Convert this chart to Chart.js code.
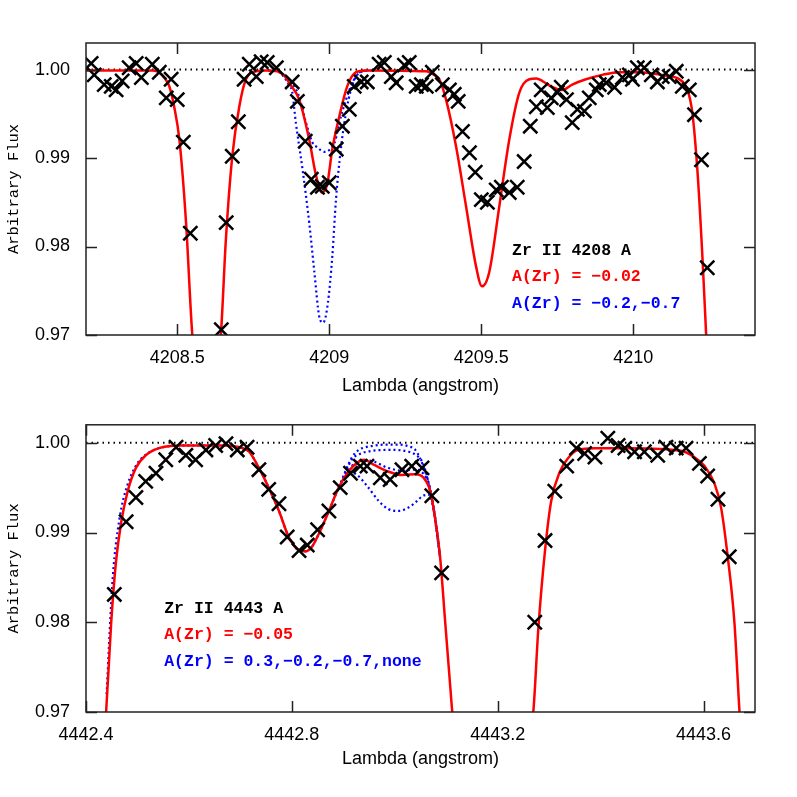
<!DOCTYPE html>
<html>
<head>
<meta charset="utf-8">
<script src="https://cdn.jsdelivr.net/npm/chart.js@4/dist/chart.umd.min.js"></script>
<style>
  body { margin: 0; background: #fff; }
  .panel { position: absolute; left: 0; }
</style>
</head>
<body>
<canvas id="topChart" class="panel" style="top:0" width="797" height="398"></canvas>
<canvas id="bottomChart" class="panel" style="top:398px" width="797" height="399"></canvas>
<script>
// ---------------- Zr II 4208 A ----------------
const topObsWave = [4208.217, 4208.227, 4208.260, 4208.283, 4208.299, 4208.319, 4208.342, 4208.365, 4208.382, 4208.418,
    4208.441, 4208.464, 4208.480, 4208.500, 4208.520, 4208.543, 4208.645, 4208.661, 4208.681, 4208.701,
    4208.720, 4208.737, 4208.760, 4208.776, 4208.796, 4208.826, 4208.878, 4208.895, 4208.921, 4208.941,
    4208.961, 4208.977, 4209.000, 4209.023, 4209.043, 4209.066, 4209.082, 4209.105, 4209.125, 4209.164,
    4209.181, 4209.204, 4209.220, 4209.247, 4209.263, 4209.286, 4209.303, 4209.319, 4209.339, 4209.372,
    4209.395, 4209.411, 4209.424, 4209.438, 4209.461, 4209.480, 4209.500, 4209.520, 4209.549, 4209.566,
    4209.592, 4209.618, 4209.641, 4209.661, 4209.681, 4209.697, 4209.717, 4209.730, 4209.750, 4209.763,
    4209.780, 4209.799, 4209.816, 4209.839, 4209.855, 4209.878, 4209.888, 4209.911, 4209.938, 4209.964,
    4209.987, 4209.997, 4210.013, 4210.036, 4210.059, 4210.079, 4210.095, 4210.118, 4210.141, 4210.161,
    4210.184, 4210.201, 4210.224, 4210.243];
const topObsFlux = [1.0007, 0.9994, 0.9983, 0.9981, 0.9977, 0.9987, 1.0002, 1.0007, 0.9991, 1.0006,
    0.9997, 0.9968, 0.9989, 0.9966, 0.9918, 0.9815, 0.9706, 0.9827, 0.9902, 0.9941,
    0.9989, 1.0006, 0.9992, 1.0009, 1.0008, 1.0002, 0.9986, 0.9964, 0.9919, 0.9876,
    0.9867, 0.9868, 0.9872, 0.9910, 0.9936, 0.9955, 0.9981, 0.9986, 0.9986, 1.0006,
    1.0008, 0.9992, 0.9985, 1.0005, 1.0008, 0.9981, 0.9983, 0.9981, 0.9997, 0.9983,
    0.9977, 0.9972, 0.9964, 0.9930, 0.9906, 0.9884, 0.9853, 0.9850, 0.9864, 0.9867,
    0.9861, 0.9867, 0.9896, 0.9936, 0.9958, 0.9977, 0.9957, 0.9968, 0.9974, 0.9980,
    0.9966, 0.9940, 0.9955, 0.9953, 0.9968, 0.9977, 0.9983, 0.9985, 0.9980, 0.9991,
    0.9994, 0.9989, 1.0002, 1.0002, 0.9994, 0.9986, 0.9992, 0.9992, 0.9998, 0.9981,
    0.9977, 0.9949, 0.9898, 0.9776];

const topFitWave = [4208.200, 4208.420, 4208.440, 4208.457, 4208.474, 4208.490, 4208.507, 4208.529, 4208.549, 4208.595,
    4208.644, 4208.660, 4208.681, 4208.704, 4208.726, 4208.759, 4208.792, 4208.829, 4208.852, 4208.868,
    4208.901, 4208.934, 4208.956, 4208.976, 4208.993, 4209.010, 4209.033, 4209.059, 4209.088, 4209.121,
    4209.318, 4209.345, 4209.362, 4209.384, 4209.417, 4209.450, 4209.483, 4209.502, 4209.526, 4209.559,
    4209.592, 4209.625, 4209.658, 4209.681, 4209.701, 4209.734, 4209.766, 4209.799, 4209.844, 4209.898,
    4209.954, 4210.020, 4210.108, 4210.151, 4210.178, 4210.194, 4210.211, 4210.227, 4210.239, 4210.260];
const topFitFlux = [0.9999, 0.9999, 0.9997, 0.9991, 0.9981, 0.9958, 0.9921, 0.9827, 0.9703, 0.9550,
    0.9703, 0.9808, 0.9902, 0.9958, 0.9989, 0.9998, 0.9999, 0.9998, 0.9993, 0.9985,
    0.9966, 0.9921, 0.9881, 0.9861, 0.9870, 0.9910, 0.9947, 0.9981, 0.9997, 0.9999,
    0.9998, 0.9994, 0.9989, 0.9966, 0.9913, 0.9845, 0.9777, 0.9755, 0.9771, 0.9845,
    0.9921, 0.9974, 0.9989, 0.9990, 0.9987, 0.9980, 0.9977, 0.9983, 0.9989, 0.9994,
    0.9997, 0.9997, 0.9993, 0.9989, 0.9977, 0.9951, 0.9884, 0.9789, 0.9703, 0.9550];

// A(Zr) = -0.2 and -0.7
const topAltWaveA = [4208.836, 4208.870, 4208.900, 4208.921, 4208.944, 4208.961, 4208.984, 4209.000, 4209.020, 4209.033,
    4209.055, 4209.076, 4209.100, 4209.130];
const topAltFluxA = [0.9998, 0.9988, 0.9970, 0.9943, 0.9918, 0.9912, 0.9907, 0.9909, 0.9920, 0.9940,
    0.9966, 0.9985, 0.9997, 0.9999];
const topAltWaveB = [4208.800, 4208.836, 4208.858, 4208.868, 4208.878, 4208.890, 4208.911, 4208.934, 4208.951, 4208.967,
    4208.980, 4208.995, 4209.010, 4209.022, 4209.038, 4209.055, 4209.071, 4209.088, 4209.109, 4209.140];
const topAltFluxB = [0.9999, 0.9997, 0.9988, 0.9982, 0.9975, 0.9940, 0.9890, 0.9827, 0.9771, 0.9721,
    0.9714, 0.9735, 0.9789, 0.9853, 0.9910, 0.9951, 0.9977, 0.9992, 0.9998, 0.9999];

const topXTicks = [4208.5, 4209, 4209.5, 4210];
const topXLabels = ["4208.5", "4209", "4209.5", "4210"];

// ---------------- Zr II 4443 A ----------------
const botObsWave = [4442.455, 4442.478, 4442.497, 4442.516, 4442.536, 4442.555, 4442.575, 4442.594, 4442.613, 4442.633,
    4442.652, 4442.672, 4442.694, 4442.713, 4442.736, 4442.755, 4442.775, 4442.791, 4442.814, 4442.830,
    4442.850, 4442.872, 4442.894, 4442.914, 4442.933, 4442.946, 4442.972, 4442.991, 4443.014, 4443.033,
    4443.053, 4443.072, 4443.091, 4443.272, 4443.292, 4443.311, 4443.334, 4443.353, 4443.369, 4443.389,
    4443.414, 4443.434, 4443.447, 4443.466, 4443.485, 4443.511, 4443.527, 4443.547, 4443.566, 4443.592,
    4443.608, 4443.628, 4443.650];
const botObsFlux = [0.9831, 0.9912, 0.9939, 0.9957, 0.9966, 0.9981, 0.9995, 0.9986, 0.9981, 0.9992,
    0.9997, 0.9999, 0.9992, 0.9995, 0.9970, 0.9948, 0.9932, 0.9895, 0.9880, 0.9886,
    0.9903, 0.9924, 0.9950, 0.9966, 0.9974, 0.9974, 0.9961, 0.9959, 0.9970, 0.9974,
    0.9972, 0.9941, 0.9855, 0.9800, 0.9891, 0.9946, 0.9974, 0.9994, 0.9988, 0.9984,
    1.0005, 0.9997, 0.9994, 0.9990, 0.9990, 0.9986, 0.9995, 0.9994, 0.9994, 0.9977,
    0.9963, 0.9937, 0.9873];

const botFitWave = [4442.432, 4442.439, 4442.449, 4442.458, 4442.468, 4442.481, 4442.497, 4442.516, 4442.542, 4442.581,
    4442.672, 4442.704, 4442.717, 4442.736, 4442.755, 4442.775, 4442.794, 4442.814, 4442.827, 4442.839,
    4442.852, 4442.872, 4442.891, 4442.910, 4442.930, 4442.940, 4442.961, 4442.987, 4443.014, 4443.040,
    4443.056, 4443.069, 4443.078, 4443.088, 4443.098, 4443.108, 4443.112, 4443.190, 4443.269, 4443.279,
    4443.292, 4443.304, 4443.321, 4443.337, 4443.356, 4443.389, 4443.460, 4443.556, 4443.582, 4443.602,
    4443.621, 4443.634, 4443.647, 4443.660, 4443.670, 4443.676];
const botFitFlux = [0.9650, 0.9699, 0.9800, 0.9866, 0.9910, 0.9946, 0.9972, 0.9986, 0.9994, 0.9997,
    0.9997, 0.9994, 0.9990, 0.9972, 0.9950, 0.9924, 0.9895, 0.9880, 0.9879, 0.9884,
    0.9898, 0.9924, 0.9950, 0.9968, 0.9979, 0.9981, 0.9975, 0.9968, 0.9964, 0.9965,
    0.9961, 0.9946, 0.9917, 0.9873, 0.9800, 0.9727, 0.9699, 0.9500, 0.9699, 0.9793,
    0.9880, 0.9935, 0.9968, 0.9983, 0.9992, 0.9994, 0.9994, 0.9991, 0.9984, 0.9974,
    0.9955, 0.9928, 0.9873, 0.9800, 0.9699, 0.9650];

// A(Zr) = 0.3, -0.2, -0.7, none
const botAltWave03 = [4442.900, 4442.910, 4442.927, 4442.946, 4442.969, 4442.988, 4443.008, 4443.027, 4443.043, 4443.055,
    4443.067, 4443.078, 4443.088];
const botAltFlux03 = [0.9960, 0.9968, 0.9964, 0.9952, 0.9935, 0.9926, 0.9924, 0.9928, 0.9935, 0.9941,
    0.9942, 0.9917, 0.9873];
const botAltWave02 = [4442.900, 4442.930, 4442.950, 4442.987, 4443.014, 4443.040, 4443.056, 4443.069, 4443.088];
const botAltFlux02 = [0.9960, 0.9980, 0.9980, 0.9972, 0.9969, 0.9970, 0.9965, 0.9948, 0.9873];
const botAltWave07 = [4442.900, 4442.916, 4442.930, 4442.956, 4442.994, 4443.027, 4443.042, 4443.054, 4443.062, 4443.069,
    4443.078, 4443.088];
const botAltFlux07 = [0.9960, 0.9981, 0.9987, 0.9991, 0.9992, 0.9990, 0.9986, 0.9978, 0.9964, 0.9945,
    0.9918, 0.9873];
const botAltWaveNone = [4442.440, 4442.452, 4442.465, 4442.480, 4442.500, 4442.525, 4442.560, 4442.600, 4442.672, 4442.704,
    4442.717, 4442.736, 4442.755, 4442.775, 4442.794, 4442.814, 4442.827, 4442.839, 4442.852, 4442.872,
    4442.891, 4442.917, 4442.930, 4442.943, 4442.962, 4442.982, 4443.007, 4443.027, 4443.040, 4443.048,
    4443.056, 4443.064, 4443.072, 4443.079, 4443.088];
const botAltFluxNone = [0.9720, 0.9850, 0.9915, 0.9952, 0.9977, 0.9990, 0.9996, 0.9997, 0.9997, 0.9994,
    0.9990, 0.9972, 0.9950, 0.9924, 0.9895, 0.9880, 0.9879, 0.9884, 0.9898, 0.9924,
    0.9950, 0.9984, 0.9992, 0.9995, 0.9997, 0.9998, 0.9998, 0.9996, 0.9992, 0.9984,
    0.9973, 0.9959, 0.9939, 0.9915, 0.9873];

const botXTicks = [4442.4, 4442.8, 4443.2, 4443.6];
const botXLabels = ["4442.4", "4442.8", "4443.2", "4443.6"];

const yTicks = [0.97, 0.98, 0.99, 1.00];
const yLabels = ["0.97", "0.98", "0.99", "1.00"];

const topNotes = ["Zr II 4208 A", "A(Zr) = \u22120.02", "A(Zr) = \u22120.2,\u22120.7"];
const botNotes = ["Zr II 4443 A", "A(Zr) = \u22120.05", "A(Zr) = 0.3,\u22120.2,\u22120.7,none"];
const noteColors = ["#000000", "#ff0000", "#0000ff"];

/* ---------------- helpers ---------------- */

Chart.defaults.font.family = "'Liberation Sans', Arial, sans-serif";
Chart.defaults.font.size = 18;
Chart.defaults.color = "#000";

const toPoints = (xs, ys) => xs.map((x, i) => ({ x, y: ys[i] }));

const obsSet = (xs, ys) => ({
    data: toPoints(xs, ys),
    showLine: false,
    pointStyle: "crossRot",
    pointRadius: 10,
    pointBorderWidth: 2.5,
    pointBorderColor: "#000",
    pointBackgroundColor: "#000",
    clip: 0,
    order: 0
});

const fitSet = (xs, ys) => ({
    data: toPoints(xs, ys),
    borderColor: "#ff0000",
    borderWidth: 2.5,
    pointRadius: 0,
    cubicInterpolationMode: "monotone",
    clip: 0,
    order: 1
});

const altSet = (xs, ys) => ({
    data: toPoints(xs, ys),
    borderColor: "#0000ff",
    borderWidth: 2.2,
    borderDash: [2, 3],
    pointRadius: 0,
    cubicInterpolationMode: "monotone",
    clip: 0,
    order: 2
});

const unitSet = (xmin, xmax) => ({
    data: [{ x: xmin, y: 1 }, { x: xmax, y: 1 }],
    borderColor: "#000",
    borderWidth: 2,
    borderDash: [1.5, 4],
    pointRadius: 0,
    clip: 0,
    order: 3
});

// frame, inward ticks and the text block
const framePlugin = {
    id: "frame",
    afterDraw(chart, args, opts) {
        const { ctx, chartArea: a, scales: { x, y } } = chart;
        ctx.save();
        ctx.strokeStyle = "#222";
        ctx.lineWidth = 1.5;
        ctx.strokeRect(a.left, a.top, a.right - a.left, a.bottom - a.top);
        ctx.beginPath();
        x.ticks.forEach(t => {
            const px = Math.round(x.getPixelForValue(t.value)) + 0.5;
            ctx.moveTo(px, a.bottom); ctx.lineTo(px, a.bottom - 11);
            ctx.moveTo(px, a.top); ctx.lineTo(px, a.top + 11);
        });
        y.ticks.forEach(t => {
            const py = Math.round(y.getPixelForValue(t.value)) + 0.5;
            ctx.moveTo(a.left, py); ctx.lineTo(a.left + 11, py);
            ctx.moveTo(a.right, py); ctx.lineTo(a.right - 11, py);
        });
        ctx.stroke();

        ctx.font = "bold 16.5px 'Liberation Mono', 'DejaVu Sans Mono', monospace";
        ctx.textBaseline = "middle";
        ctx.textAlign = "left";
        const nx = x.getPixelForValue(opts.x);
        const ny = y.getPixelForValue(opts.y);
        opts.lines.forEach((txt, i) => {
            ctx.fillStyle = noteColors[i];
            ctx.fillText(txt, nx, ny + i * 26.5);
        });
        ctx.restore();
    }
};

const makePanel = (canvasId, cfg) => {
    new Chart(document.getElementById(canvasId), {
        type: "line",
        data: { datasets: cfg.datasets },
        options: {
            responsive: false,
            animation: false,
            devicePixelRatio: 1,
            layout: { padding: { top: cfg.padTop, right: 42, left: 0, bottom: cfg.padBottom } },
            plugins: {
                legend: { display: false },
                tooltip: { enabled: false },
                frame: { x: cfg.noteX, y: cfg.noteY, lines: cfg.notes }
            },
            scales: {
                x: {
                    type: "linear",
                    min: cfg.xmin,
                    max: cfg.xmax,
                    grid: { display: false, drawTicks: false },
                    border: { display: false },
                    afterBuildTicks: s => { s.ticks = cfg.xTicks.map(v => ({ value: v })); },
                    afterFit: s => { s.height = cfg.xHeight; },
                    ticks: {
                        autoSkip: false,
                        maxRotation: 0,
                        padding: 12,
                        callback: (v, i) => cfg.xLabels[i]
                    },
                    title: {
                        display: true,
                        text: "Lambda (angstrom)",
                        padding: { top: 0, bottom: 1 }
                    }
                },
                y: {
                    min: 0.97,
                    max: cfg.ymax,
                    grid: { display: false, drawTicks: false },
                    border: { display: false },
                    afterBuildTicks: s => { s.ticks = yTicks.map(v => ({ value: v })); },
                    afterFit: s => { s.width = 86; },
                    ticks: {
                        padding: 16,
                        callback: (v, i) => yLabels[i]
                    },
                    title: {
                        display: true,
                        text: "Arbitrary Flux",
                        font: { family: "'Liberation Mono', 'DejaVu Sans Mono', monospace", size: 15.5 },
                        padding: { top: 5, bottom: 0 }
                    }
                }
            }
        },
        plugins: [framePlugin]
    });
};

makePanel("topChart", {
    datasets: [
        obsSet(topObsWave, topObsFlux),
        fitSet(topFitWave, topFitFlux),
        altSet(topAltWaveA, topAltFluxA),
        altSet(topAltWaveB, topAltFluxB),
        unitSet(4208.2, 4210.4)
    ],
    xmin: 4208.2, xmax: 4210.4, ymax: 1.003,
    xTicks: topXTicks, xLabels: topXLabels,
    padTop: 43, padBottom: 0, xHeight: 63,
    notes: topNotes, noteX: 4209.601, noteY: 0.97953
});

makePanel("bottomChart", {
    datasets: [
        obsSet(botObsWave, botObsFlux),
        fitSet(botFitWave, botFitFlux),
        altSet(botAltWave03, botAltFlux03),
        altSet(botAltWave02, botAltFlux02),
        altSet(botAltWave07, botAltFlux07),
        altSet(botAltWaveNone, botAltFluxNone),
        unitSet(4442.4, 4443.7)
    ],
    xmin: 4442.4, xmax: 4443.7, ymax: 1.002,
    xTicks: botXTicks, xLabels: botXLabels,
    padTop: 22, padBottom: 26, xHeight: 59,
    notes: botNotes, noteX: 4442.552, noteY: 0.98154
});
</script>
</body>
</html>
